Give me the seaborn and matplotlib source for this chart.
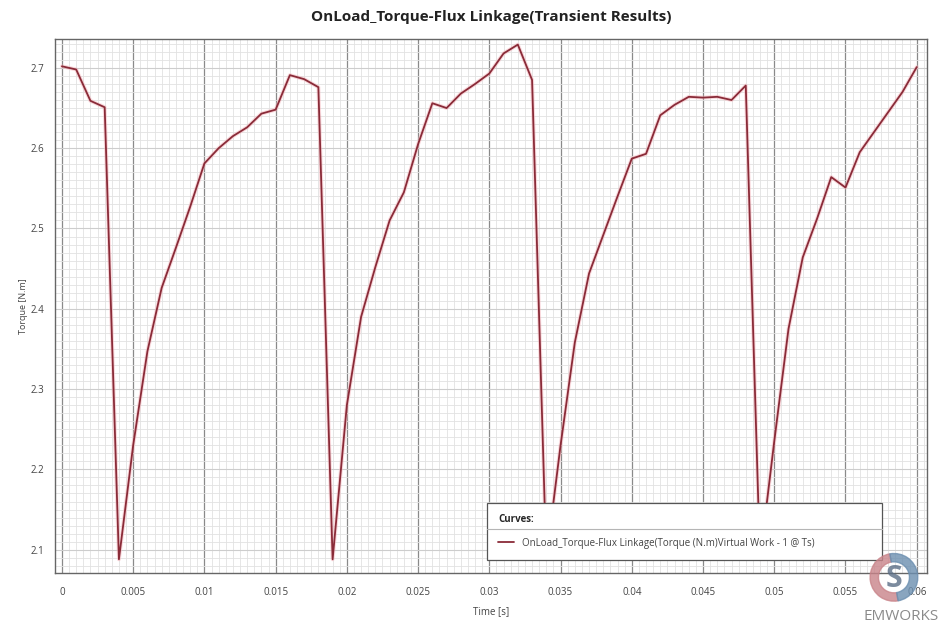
import matplotlib
matplotlib.use("Agg")
import numpy as np
import pandas as pd
import seaborn as sns
import matplotlib.pyplot as plt
from matplotlib.ticker import MultipleLocator
from matplotlib.patches import Wedge

# time steps [s]
time_s = [0.000, 0.001, 0.002, 0.003, 0.004, 0.005, 0.006, 0.007, 0.008, 0.009,
          0.010, 0.011, 0.012, 0.013, 0.014, 0.015, 0.016, 0.017, 0.018, 0.019,
          0.020, 0.021, 0.022, 0.023, 0.024, 0.025, 0.026, 0.027, 0.028, 0.029,
          0.030, 0.031, 0.032, 0.033, 0.034, 0.035, 0.036, 0.037, 0.038, 0.039,
          0.040, 0.041, 0.042, 0.043, 0.044, 0.045, 0.046, 0.047, 0.048, 0.049,
          0.050, 0.051, 0.052, 0.053, 0.054, 0.055, 0.056, 0.057, 0.058, 0.059,
          0.060]

# torque [N.m]
torque = [2.702, 2.698, 2.659, 2.651, 2.088, 2.230, 2.347, 2.426, 2.476, 2.527,
          2.581, 2.600, 2.615, 2.626, 2.643, 2.648, 2.691, 2.686, 2.676, 2.088,
          2.280, 2.390, 2.452, 2.510, 2.545, 2.605, 2.656, 2.650, 2.668, 2.680,
          2.693, 2.718, 2.729, 2.685, 2.088, 2.230, 2.358, 2.444, 2.492, 2.540,
          2.587, 2.593, 2.641, 2.654, 2.664, 2.663, 2.664, 2.660, 2.678, 2.088,
          2.235, 2.375, 2.464, 2.512, 2.564, 2.551, 2.595, 2.620, 2.645, 2.670,
          2.701]

x_ticks = [0, 0.005, 0.01, 0.015, 0.02, 0.025, 0.03, 0.035, 0.04, 0.045, 0.05, 0.055, 0.06]
x_labels = ["0", "0.005", "0.01", "0.015", "0.02", "0.025", "0.03", "0.035",
            "0.04", "0.045", "0.05", "0.055", "0.06"]
y_ticks = [2.1, 2.2, 2.3, 2.4, 2.5, 2.6, 2.7]
y_labels = ["2.1", "2.2", "2.3", "2.4", "2.5", "2.6", "2.7"]

series_name = "OnLoad_Torque-Flux Linkage(Torque (N.m)Virtual Work - 1 @ Ts)"

df = pd.DataFrame({"Time [s]": time_s, "Torque [N.m]": torque})

sns.set_style("white")
plt.rcParams['font.family'] = ['Open Sans', 'DejaVu Sans']

fig = plt.figure(figsize=(9.41, 6.32), dpi=100)
ax = fig.add_axes([0.0584, 0.0934, 0.9264, 0.8449])

# grid
ax.xaxis.set_minor_locator(MultipleLocator(0.0005))
ax.yaxis.set_minor_locator(MultipleLocator(0.01))
ax.grid(which="minor", color="#e2e2e2", linewidth=0.6)
ax.grid(which="major", axis="x", color="#8a8a8a", linewidth=0.9)
ax.grid(which="major", axis="y", color="#cdcdcd", linewidth=0.8)
ax.set_axisbelow(True)

# halo + curve
sns.lineplot(data=df, x="Time [s]", y="Torque [N.m]", ax=ax, color="#f5b3ba",
             linewidth=2.8, alpha=0.5, legend=False)
sns.lineplot(data=df, x="Time [s]", y="Torque [N.m]", ax=ax, color="#8a2b38",
             linewidth=1.3, label=series_name)

ax.set_xlim(-0.00049, 0.0607)
ax.set_ylim(2.071, 2.736)
ax.set_xticks(x_ticks)
ax.set_xticklabels(x_labels)
ax.set_yticks(y_ticks)
ax.set_yticklabels(y_labels)

ax.tick_params(axis="both", which="major", labelsize=7, colors="#555555",
               length=4, width=0.8, direction="out", labelcolor="#444444")
ax.tick_params(axis="x", which="major", pad=6)
ax.tick_params(axis="both", which="minor", length=2, width=0.6, color="#777777")
for s in ax.spines.values():
    s.set_color("#666666")
    s.set_linewidth(1.0)

ax.set_xlabel("Time [s]", fontsize=7, color="#444444")
ax.xaxis.set_label_coords(0.5, -0.062)
ax.set_ylabel("Torque [N.m]", fontsize=6.5, color="#444444", labelpad=2)
ax.set_title("OnLoad_Torque-Flux Linkage(Transient Results)", fontsize=11,
             fontweight="bold", color="#222222", pad=13)

leg = ax.legend(loc="upper left", bbox_to_anchor=(0.4956, 0.0225, 0.4531, 0.1085),
                mode="expand", title="Curves:", alignment="left", fontsize=7,
                title_fontproperties={"size": 7, "weight": "bold"},
                frameon=True, fancybox=False, framealpha=1, handlelength=1.6,
                borderpad=1.15, labelspacing=1.3, borderaxespad=0)
leg.get_frame().set_edgecolor("#555555")
leg.get_frame().set_linewidth(0.9)
leg.set_zorder(20)
for t in leg.get_texts():
    t.set_color("#444444")

# separator under legend title
ax.plot([0.4956, 0.9487], [0.0824, 0.0824], transform=ax.transAxes, color="#b5b5b5",
        linewidth=0.8, zorder=30, clip_on=False)

# logo
lax = fig.add_axes([0.922, 0.045, 0.056, 0.083])
lax.set_aspect("equal")
lax.add_patch(Wedge((0, 0), 1, 100, 280, width=0.35, color="#c9848a", alpha=0.8))
lax.add_patch(Wedge((0, 0), 1, -80, 100, width=0.35, color="#6c8fb0", alpha=0.8))
lax.text(0, -0.05, "S", ha="center", va="center", fontsize=22, fontweight="bold",
         color="#5b6e86", alpha=0.8)
lax.set_xlim(-1.1, 1.1)
lax.set_ylim(-1.1, 1.1)
lax.axis("off")
fig.text(0.998, 0.012, "EMWORKS", ha="right", va="bottom", fontsize=11,
         color="#8a8a8a")

fig.savefig("out.png", dpi=100)
